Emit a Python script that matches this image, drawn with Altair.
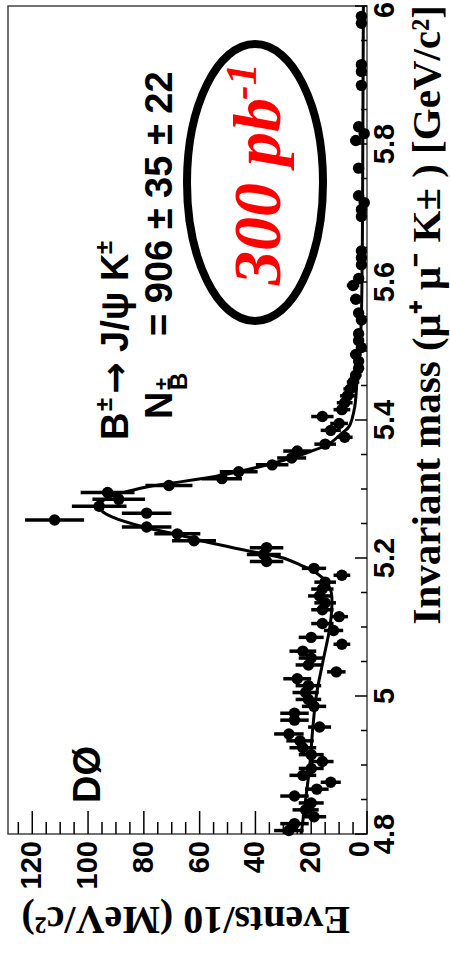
import math

import altair as alt
import pandas as pd

# ---------------------------------------------------------------------------
# B+- -> J/psi K+- candidates, 10 MeV/c^2 bins from 4.80 to 6.00 GeV/c^2
# (None = empty bin, not drawn)
# ---------------------------------------------------------------------------
MASS_MIN, MASS_MAX, BIN_W = 4.80, 6.00, 0.01

counts = [
    28, 26, 19, 22, 20, 26, 18, 13, 23, 20,
    16, 20, 23, 24, 28, 17, 26, 26, 19, 21,
    22, 21, 25, 11, 21, 20, 23, 9, 20, 12,
    16, 10, 16, 15, 17, 16, 15, 9, 19, 36,
    37, 36, 62, 68, 79, 112, 79, 96, 89, 93,
    71, 52, 46, 34, 27, 25, 15, 8, 13, 10,
    16, 9, 8, 7, 6, 5, 4, 3, 3, 4,
    2, 3, 3, None, 2, 3, None, 4, None, 5,
    3, None, 2, 2, 2, None, None, None, None, 2,
    2, 1, 3, None, None, None, 3, None, None, None,
    4, 1, 3, None, None, None, None, None, 2, None,
    2, 2, None, None, None, None, None, 2, 2, None,
]

# fitted signal + background curve
fit_mass = [4.800, 4.850, 4.900, 4.950, 5.000, 5.050, 5.100, 5.130, 5.150,
            5.165, 5.178, 5.190, 5.200, 5.209, 5.221, 5.233, 5.245, 5.259,
            5.268, 5.275, 5.282, 5.289, 5.303, 5.308, 5.320, 5.337, 5.354,
            5.366, 5.381, 5.390, 5.419, 5.482, 5.530, 5.600, 5.700, 5.800,
            5.900, 6.000]
fit_value = [23.6, 22.0, 20.5, 19.5, 18.2, 15.8, 13.3, 12.6, 12.8,
             14.5, 18.0, 24.0, 30.0, 41.0, 55.0, 67.0, 80.0, 91.0,
             95.0, 96.0, 95.0, 92.0, 79.0, 71.0, 52.0, 34.0, 20.5,
             13.4, 9.0, 6.5, 4.4, 3.3, 2.2, 1.8, 1.6, 1.5,
             1.4, 1.3]

# axis ticks and their labels
events_major = [0, 20, 40, 60, 80, 100, 120]
events_text = ["0", "20", "40", "60", "80", "100", "120"]
events_minor = [v for v in range(5, 130, 5) if v % 20]
mass_major = [4.8, 5.0, 5.2, 5.4, 5.6, 5.8, 6.0]
mass_text = ["4.8", "5", "5.2", "5.4", "5.6", "5.8", "6"]
mass_minor = [4.85, 4.9, 4.95, 5.05, 5.1, 5.15, 5.25, 5.3, 5.35,
              5.45, 5.5, 5.55, 5.65, 5.7, 5.75, 5.85, 5.9, 5.95]

# ---------------------------------------------------------------------------
# layout (page is 450 x 959, drawn as a portrait, rotated figure)
# ---------------------------------------------------------------------------
PAGE_W, PAGE_H = 450, 959
LEFT, TOP = 8, 6
W, H = 359, 828
EVENTS_MAX = 128.7

SANS = "Liberation Sans"
SERIF = "Liberation Serif"

x_scale = alt.Scale(domain=[0, EVENTS_MAX], reverse=True, nice=False, zero=False)
y_scale = alt.Scale(domain=[MASS_MIN, MASS_MAX], nice=False, zero=False)

rows = []
for i, n in enumerate(counts):
    if n is None:
        continue
    m = MASS_MIN + (i + 0.5) * BIN_W
    e = math.sqrt(n)
    rows.append({"mass": round(m, 4), "n": n, "lo": n - e, "hi": n + e})
hist = pd.DataFrame(rows)
fit = pd.DataFrame({"mass": fit_mass, "value": fit_value, "k": range(len(fit_mass))})

Y_M = alt.Y("mass:Q", scale=y_scale, axis=None)

points = alt.Chart(hist).mark_circle(size=130, color="black", opacity=1).encode(
    x=alt.X("n:Q", scale=x_scale, axis=None), y=Y_M,
)

errors = alt.Chart(hist).mark_rule(color="black", strokeWidth=3.5).encode(
    x=alt.X("lo:Q", scale=x_scale, axis=None), x2="hi:Q", y=Y_M,
)

curve = alt.Chart(fit).mark_line(
    color="black", strokeWidth=3, interpolate="catmull-rom"
).encode(
    x=alt.X("value:Q", scale=x_scale, axis=None), y=Y_M, order="k:Q",
)


def tick_layer(values, channel, length, width=1.5):
    df = pd.DataFrame({"v": values})
    if channel == "events":
        enc = dict(x=alt.X("v:Q", scale=x_scale, axis=None),
                   y=alt.value(H), y2=alt.value(H - length))
    else:
        enc = dict(y=alt.Y("v:Q", scale=y_scale, axis=None),
                   x=alt.value(W), x2=alt.value(W - length))
    return alt.Chart(df).mark_rule(color="black", strokeWidth=width).encode(**enc)


ticks = [
    tick_layer(events_major, "events", 23),
    tick_layer(events_minor, "events", 12),
    tick_layer(mass_major, "mass", 12),
    tick_layer(mass_minor, "mass", 6),
]

TICK_FONT = dict(font=SANS, fontWeight="bold", fontSize=29, color="black", angle=270)

# tick labels, placed through the scales
ev_lab = pd.DataFrame({"v": events_major, "t": events_text})
events_tick_labels = alt.Chart(ev_lab[ev_lab.v > 0]).mark_text(
    align="right", baseline="middle", **TICK_FONT,
).encode(x=alt.X("v:Q", scale=x_scale, axis=None), y=alt.value(H + 7), text="t:N")
# the zero label sits a little inside so it clears the mass labels
events_zero_label = alt.Chart(ev_lab[ev_lab.v == 0]).mark_text(
    align="right", baseline="middle", dy=-7, **TICK_FONT,
).encode(x=alt.X("v:Q", scale=x_scale, axis=None), y=alt.value(H + 7), text="t:N")

ms_lab = pd.DataFrame({"v": mass_major, "t": mass_text})
mass_tick_labels = alt.Chart(ms_lab[ms_lab.v < MASS_MAX]).mark_text(
    align="center", baseline="top", **TICK_FONT,
).encode(y=alt.Y("v:Q", scale=y_scale, axis=None), x=alt.value(W + 4), text="t:N")
# the last label is nudged down so it stays on the page
mass_top_label = alt.Chart(ms_lab[ms_lab.v == MASS_MAX]).mark_text(
    align="center", baseline="top", dx=-4, **TICK_FONT,
).encode(y=alt.Y("v:Q", scale=y_scale, axis=None), x=alt.value(W + 4), text="t:N")


def label(text, px, py, size, angle=270, align="left", baseline="alphabetic",
          font=SANS, weight="bold", style="normal", color="black"):
    """Text placed in page pixels (converted to plot-area pixels)."""
    return alt.Chart(alt.Data(values=[{"t": text}])).mark_text(
        angle=angle, align=align, baseline=baseline, font=font,
        fontWeight=weight, fontStyle=style, fontSize=size, color=color,
    ).encode(x=alt.value(px - LEFT), y=alt.value(py - TOP), text="t:N")


texts = [
    # axis titles
    label("Events/10 (MeV/c²)", 350, 907, 40, angle=180, font=SERIF),
    label("Invariant mass (μ⁺ μ⁻ K± )  [GeV/c²]", 440, 5, 41, align="right", font=SERIF),
    # experiment tag
    label("DØ", 100, 803, 38),
    # decay channel
    label("B", 128, 440, 38),
    label("±", 112, 411, 24),
    label("→", 128, 394, 38, font="DejaVu Sans"),
    label("J/ψ K", 128, 352, 38),
    label("±", 112, 254, 24),
    # signal yield
    label("N", 172, 419, 38),
    label("±", 170, 390, 22),
    label("B", 187, 390, 24),
    label("= 906 ± 35 ± 22", 172, 336, 38),
    # luminosity
    label("300 pb", 280, 285, 68, font=SERIF, style="italic", color="#ff0000"),
    label("-1", 256, 100, 44, font=SERIF, style="italic", color="#ff0000"),
]

ELLIPSE = "M0,-1 A0.491,1 0 1,1 0,1 A0.491,1 0 1,1 0,-1 Z"
ellipse = alt.Chart(alt.Data(values=[{"e": 1}])).mark_point(
    shape=ELLIPSE, size=277 ** 2, filled=False, color="black",
    strokeWidth=8, opacity=1,
).encode(x=alt.value(255 - LEFT), y=alt.value(182.5 - TOP))

chart = alt.layer(
    points, errors, curve, *ticks,
    events_tick_labels, events_zero_label, mass_tick_labels, mass_top_label,
    ellipse, *texts,
).properties(
    width=W, height=H,
    padding={"left": LEFT, "top": TOP, "right": PAGE_W - LEFT - W,
             "bottom": PAGE_H - TOP - H},
    autosize=alt.AutoSizeParams(type="none"),
    background="white",
).configure_view(stroke="#444", strokeWidth=1.5)

chart.save("out.html", embed_options={"renderer": "svg", "actions": False})
